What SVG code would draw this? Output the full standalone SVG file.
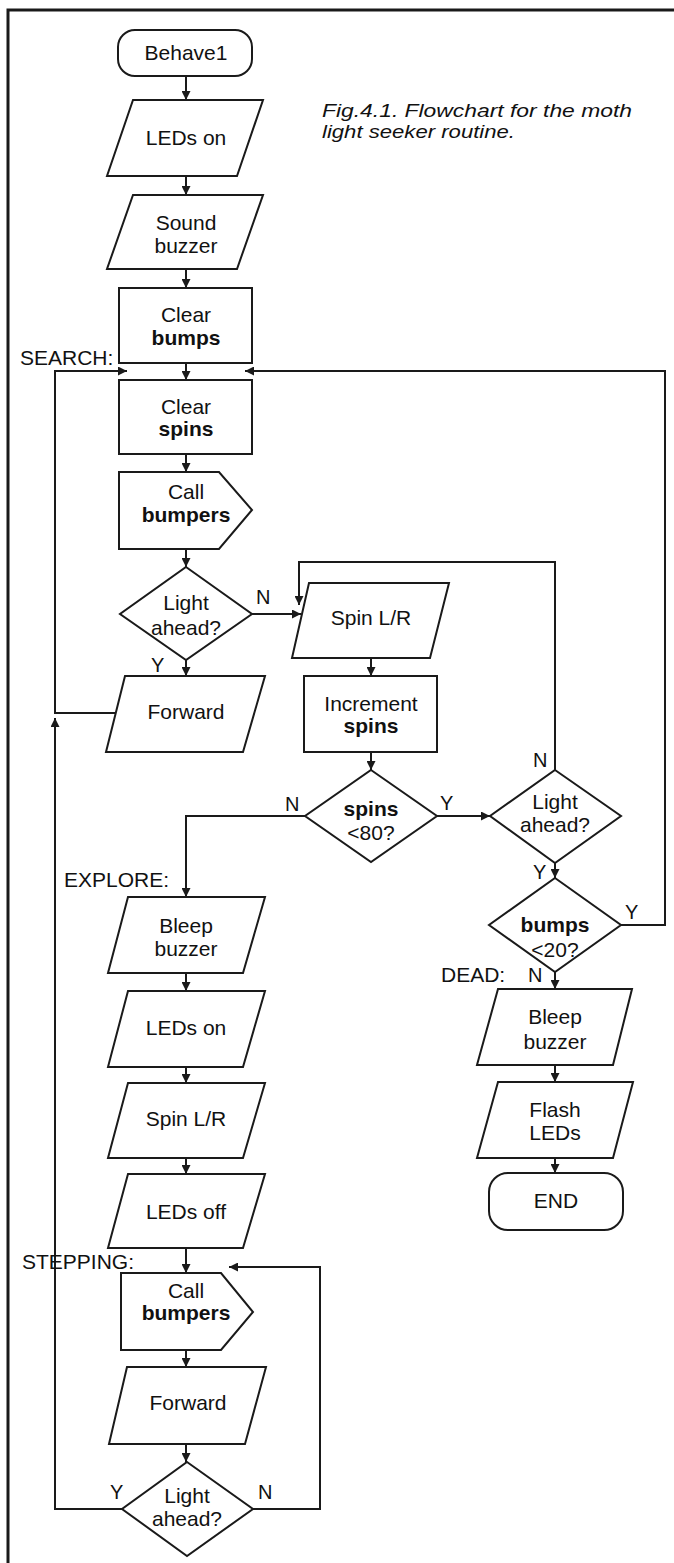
<svg xmlns="http://www.w3.org/2000/svg" width="674" height="1563" viewBox="0 0 674 1563">
<defs>
<marker id="ah" viewBox="0 0 10 10" refX="10" refY="5" markerWidth="10" markerHeight="9" markerUnits="userSpaceOnUse" orient="auto">
<path d="M0,0 L10,5 L0,10 z" fill="#1a1a1a"/>
</marker>
<style>
.s{fill:#fff;stroke:#1a1a1a;stroke-width:2}
.c{fill:none;stroke:#1a1a1a;stroke-width:2}
.a{fill:none;stroke:#1a1a1a;stroke-width:2;marker-end:url(#ah)}
text{font-family:"Liberation Sans",Arial,sans-serif;font-size:21px;fill:#111}
.m{text-anchor:middle}
.b{font-weight:bold}
.l{font-size:20px}
.cap{font-style:italic;font-size:19px}
</style>
</defs>
<rect width="674" height="1563" fill="#fff"/>
<path d="M8,1563 L8,10 L674,10" fill="none" stroke="#1a1a1a" stroke-width="3"/>

<g id="connectors">
<path class="a" d="M186,76 L186,100"/>
<path class="a" d="M186,176 L186,195"/>
<path class="a" d="M186,269 L186,288"/>
<path class="a" d="M186,363 L186,380"/>
<path class="a" d="M186,454 L186,472"/>
<path class="a" d="M186,549 L186,567"/>
<path class="a" d="M186,660 L186,676"/>
<path class="a" d="M252,614 L301,614"/>
<path class="a" d="M115,713 L55,713 L55,371 L127,371"/>
<path class="a" d="M122,1509 L55,1509 L55,718"/>
<path class="a" d="M371,658 L371,676"/>
<path class="a" d="M371,752 L371,770"/>
<path class="a" d="M305,816 L186,816 L186,897"/>
<path class="a" d="M437,816 L490,816"/>
<path class="a" d="M555,770 L555,562 L299,562 L299,605"/>
<path class="a" d="M555,863 L555,878"/>
<path class="a" d="M621,925 L665,925 L665,371 L245,371"/>
<path class="a" d="M555,972 L555,989"/>
<path class="a" d="M555,1065 L555,1082"/>
<path class="a" d="M555,1158 L555,1173"/>
<path class="a" d="M186,973 L186,991"/>
<path class="a" d="M186,1067 L186,1083"/>
<path class="a" d="M186,1158 L186,1174"/>
<path class="a" d="M186,1248 L186,1273"/>
<path class="a" d="M186,1350 L186,1367"/>
<path class="a" d="M186,1444 L186,1462"/>
<path class="a" d="M253,1509 L320,1509 L320,1267 L229,1267"/>
</g>

<g id="caption">
<text class="cap" x="322" y="117" textLength="310" lengthAdjust="spacingAndGlyphs">Fig.4.1. Flowchart for the moth</text>
<text class="cap" x="322" y="138" textLength="193" lengthAdjust="spacingAndGlyphs">light seeker routine.</text>
</g>

<g id="behave1">
<rect class="s" x="118" y="30" width="134" height="46" rx="17"/>
<text class="m" x="186" y="60">Behave1</text>
</g>
<g id="leds-on-1">
<polygon class="s" points="133,100 263,100 237,176 107,176"/>
<text class="m" x="186" y="145">LEDs on</text>
</g>
<g id="sound-buzzer">
<polygon class="s" points="133,195 263,195 237,269 107,269"/>
<text class="m" x="186" y="230">Sound</text>
<text class="m" x="186" y="253">buzzer</text>
</g>
<g id="clear-bumps">
<rect class="s" x="119" y="288" width="133" height="75"/>
<text class="m" x="186" y="322">Clear</text>
<text class="m b" x="186" y="345">bumps</text>
</g>
<g id="label-search"><text x="20" y="365">SEARCH:</text></g>
<g id="clear-spins">
<rect class="s" x="119" y="380" width="133" height="74"/>
<text class="m" x="186" y="414">Clear</text>
<text class="m b" x="186" y="436">spins</text>
</g>
<g id="call-bumpers-1">
<polygon class="s" points="119,472 219,472 252,510 219,549 119,549"/>
<text class="m" x="186" y="499">Call</text>
<text class="m b" x="186" y="522">bumpers</text>
</g>
<g id="light-ahead-1">
<polygon class="s" points="186,567 252,614 186,660 120,614"/>
<text class="m" x="186" y="610">Light</text>
<text class="m" x="186" y="635">ahead?</text>
<text class="l" x="256" y="604">N</text>
<text class="l" x="151" y="672">Y</text>
</g>
<g id="forward-1">
<polygon class="s" points="125,676 265,676 243,752 106,752"/>
<text class="m" x="186" y="719">Forward</text>
</g>
<g id="spin-lr-1">
<polygon class="s" points="309,583 449,583 430,658 292,658"/>
<text class="m" x="371" y="625">Spin L/R</text>
</g>
<g id="increment-spins">
<rect class="s" x="304" y="676" width="133" height="76"/>
<text class="m" x="371" y="711">Increment</text>
<text class="m b" x="371" y="733">spins</text>
</g>
<g id="spins-80">
<polygon class="s" points="371,770 437,816 371,862 305,816"/>
<text class="m b" x="371" y="816">spins</text>
<text class="m" x="371" y="840">&lt;80?</text>
<text class="l" x="285" y="811">N</text>
<text class="l" x="440" y="810">Y</text>
</g>
<g id="light-ahead-2">
<polygon class="s" points="555,770 621,816 555,863 490,816"/>
<text class="m" x="555" y="809">Light</text>
<text class="m" x="555" y="832">ahead?</text>
<text class="l" x="533" y="767">N</text>
<text class="l" x="533" y="879">Y</text>
</g>
<g id="bumps-20">
<polygon class="s" points="555,878 621,925 555,972 489,925"/>
<text class="m b" x="555" y="932">bumps</text>
<text class="m" x="555" y="957">&lt;20?</text>
<text class="l" x="625" y="919">Y</text>
<text class="l" x="528" y="982">N</text>
</g>
<g id="label-dead"><text x="441" y="982">DEAD:</text></g>
<g id="bleep-buzzer-2">
<polygon class="s" points="498,989 632,989 613,1065 477,1065"/>
<text class="m" x="555" y="1024">Bleep</text>
<text class="m" x="555" y="1049">buzzer</text>
</g>
<g id="flash-leds">
<polygon class="s" points="498,1082 633,1082 613,1158 477,1158"/>
<text class="m" x="555" y="1117">Flash</text>
<text class="m" x="555" y="1140">LEDs</text>
</g>
<g id="end">
<rect class="s" x="489" y="1173" width="134" height="57" rx="19"/>
<text class="m" x="556" y="1208">END</text>
</g>
<g id="label-explore"><text x="64" y="887">EXPLORE:</text></g>
<g id="bleep-buzzer-1">
<polygon class="s" points="128,897 265,897 243,973 108,973"/>
<text class="m" x="186" y="933">Bleep</text>
<text class="m" x="186" y="956">buzzer</text>
</g>
<g id="leds-on-2">
<polygon class="s" points="128,991 265,991 243,1067 108,1067"/>
<text class="m" x="186" y="1035">LEDs on</text>
</g>
<g id="spin-lr-2">
<polygon class="s" points="128,1083 265,1083 243,1158 108,1158"/>
<text class="m" x="186" y="1126">Spin L/R</text>
</g>
<g id="leds-off">
<polygon class="s" points="128,1174 265,1174 243,1248 108,1248"/>
<text class="m" x="186" y="1219">LEDs off</text>
</g>
<g id="label-stepping"><text x="22" y="1269">STEPPING:</text></g>
<g id="call-bumpers-2">
<polygon class="s" points="121,1273 221,1273 253,1312 221,1350 121,1350"/>
<text class="m" x="186" y="1298">Call</text>
<text class="m b" x="186" y="1320">bumpers</text>
</g>
<g id="forward-2">
<polygon class="s" points="127,1367 266,1367 245,1444 109,1444"/>
<text class="m" x="188" y="1410">Forward</text>
</g>
<g id="light-ahead-3">
<polygon class="s" points="187,1462 253,1509 187,1556 122,1509"/>
<text class="m" x="187" y="1503">Light</text>
<text class="m" x="187" y="1526">ahead?</text>
<text class="l" x="110" y="1499">Y</text>
<text class="l" x="258" y="1499">N</text>
</g>
</svg>
